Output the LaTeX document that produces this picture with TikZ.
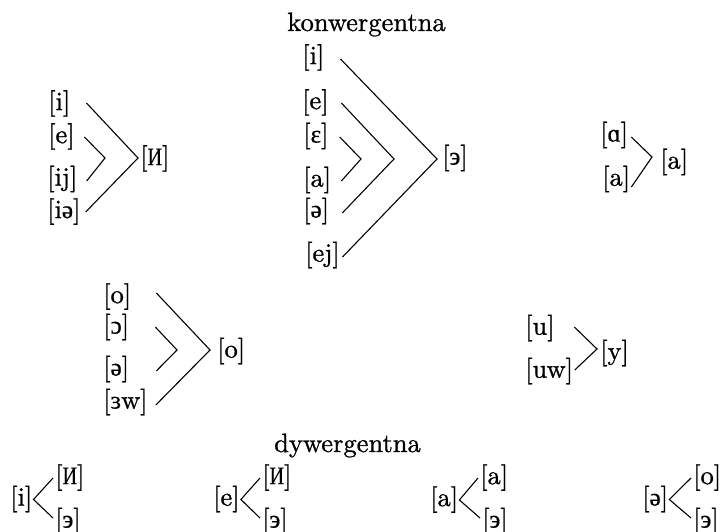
\documentclass[tikz,border=0pt]{standalone}
\usepackage{fontspec}
\usepackage{graphicx}
\usetikzlibrary{calc}
\setmainfont{lmroman10-regular.otf}[BoldFont=lmroman10-regular.otf, BoldFeatures={FakeBold=0.9}]
\newfontfamily\ipf{Liberation Serif}[Scale=0.95, BoldFont=Liberation Serif, BoldFeatures={FakeBold=0.6}]
\newcommand{\ip}[1]{{\ipf #1}}
\newcommand{\CI}{\ip{\scalebox{0.8}[1]{И}}}
\begin{document}
\begin{tikzpicture}[x=1pt,y=-1pt,
  every node/.style={font=\fontsize{26.5}{30}\selectfont\bfseries, inner sep=0pt},
  lab/.style={anchor=west},
  ttl/.style={anchor=base},
  ln/.style={line width=1.1pt}]
\useasboundingbox (0,0) rectangle (726,532);
% titles
\node[ttl] (t1) at (366.5,31) {konwergentna};
\node[ttl] (t2) at (347.5,452) {dywergentna};
% group 1
\node[lab] (a1) at (48,103.5) {[i]};
\node[lab] (a2) at (48,136.5) {[e]};
\node[lab] (a3) at (47,179) {[ij]};
\node[lab] (a4) at (47,211.5) {[i\ip{ə}]};
\node[lab] (at) at (140,158.5) {[\CI]};
\coordinate (av1) at (138,158);
\coordinate (av2) at (105,158);
\draw[ln] ($(a1.east)+(16,-0.5)$) -- (av1) -- ($(a4.east)+(5,0.5)$);
\draw[ln] ($(a2.east)+(9.5,0.5)$) -- (av2) -- ($(a3.east)+(9,2)$);
% group 2
\node[lab] (b1) at (302,57.5) {[i]};
\node[lab] (b2) at (302,102.5) {[e]};
\node[lab] (b3) at (303,136) {[\ip{ɛ}]};
\node[lab] (b4) at (303,180) {[a]};
\node[lab] (b5) at (303,211) {[\ip{ə}]};
\node[lab] (b6) at (305,255) {[ej]};
\node[lab] (bt) at (442,158) {[\ip{э}]};
\coordinate (bv1) at (437,159);
\coordinate (bv2) at (394,159);
\coordinate (bv3) at (361,159);
\draw[ln] ($(b1.east)+(16,1.5)$) -- (bv1) -- ($(b6.east)+(2.5,2)$);
\draw[ln] ($(b2.east)+(12.5,0.5)$) -- (bv2) -- ($(b5.east)+(13,2)$);
\draw[ln] ($(b3.east)+(11,1)$) -- (bv3) -- ($(b4.east)+(10,1)$);
% group 3
\node[lab] (c1) at (600,135) {[\ip{ɑ}]};
\node[lab] (c2) at (602,179) {[a]};
\node[lab] (ct) at (660,162) {[a]};
\coordinate (cv) at (652,157);
\draw[ln] ($(c1.east)+(3,2)$) -- (cv) -- ($(c2.east)+(1,8)$);
% group 4
\node[lab] (d1) at (103,296.5) {[o]};
\node[lab] (d2) at (103,327) {[\ip{ɔ}]};
\node[lab] (d3) at (103,369) {[\ip{ə}]};
\node[lab] (d4) at (103,402) {[\ip{ɜ}w]};
\node[lab] (dt) at (217,351) {[o]};
\coordinate (dv1) at (210,350);
\coordinate (dv2) at (177,350);
\draw[ln] ($(d1.east)+(25,-3.5)$) -- (dv1) -- ($(d4.east)+(8,3)$);
\draw[ln] ($(d2.east)+(26,0)$) -- (dv2) -- ($(d3.east)+(27,2)$);
% group 5
\node[lab] (e1) at (525,328) {[u]};
\node[lab] (e2) at (525,371) {[uw]};
\node[lab] (et) at (600,353) {[y]};
\coordinate (ev) at (597,349);
\draw[ln] ($(e1.east)+(19.5,-1)$) -- (ev) -- ($(e2.east)+(1.5,-1)$);
% divergent
\node[lab] (f1) at (10,499) {[i]};
\node[lab] (f2) at (55,477.5) {[\CI]};
\node[lab] (f3) at (55,521) {[\ip{э}]};
\node[lab] (g1) at (213,499) {[e]};
\node[lab] (g2) at (262,477.5) {[\CI]};
\node[lab] (g3) at (262,521) {[\ip{э}]};
\node[lab] (h1) at (430,499.5) {[a]};
\node[lab] (h2) at (480,477.5) {[a]};
\node[lab] (h3) at (482,521) {[\ip{э}]};
\node[lab] (k1) at (642,499) {[\ip{ə}]};
\node[lab] (k2) at (693,477.5) {[o]};
\node[lab] (k3) at (693,521) {[\ip{э}]};
\foreach \s/\u/\l in {f1/f2/f3,g1/g2/g3,h1/h2/h3,k1/k2/k3}{
  \draw[ln] ($(\u.west)+(-2,0.5)$) -- ($(\s.east)+(1,0.5)$) -- ($(\l.west)+(-2,-3)$);
}
\end{tikzpicture}
\end{document}
